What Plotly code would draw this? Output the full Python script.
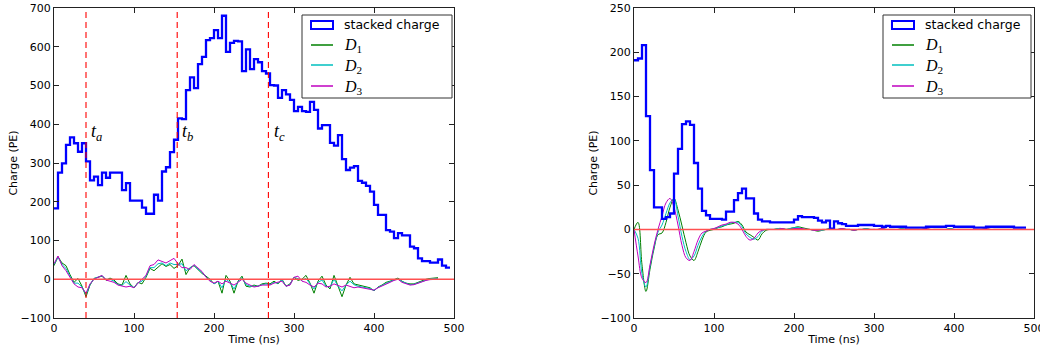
import plotly.graph_objects as go

# ---------------- data ----------------
bin_width = 5  # ns

left_charge = [
    183, 275, 299, 347, 366, 351, 329, 351, 304, 255,
    265, 243, 275, 262, 275, 275, 275, 230, 248, 203,
    203, 203, 185, 169, 169, 218, 203, 278, 289, 328,
    360, 415, 413,
    488, 521, 493, 555, 574, 617, 622, 643, 622, 680,
    587, 610, 615, 614, 537, 593, 542, 568, 560, 537,
    531, 501, 500, 468, 488, 477, 463, 434, 445, 434,
    432, 458, 437, 389, 398, 398, 352, 345, 372, 310,
    282, 288, 292, 254, 249, 241, 226, 192, 166, 166,
    127, 123, 106, 119, 113, 113, 84, 80, 54, 47,
    47, 43, 43, 51, 35, 30,
]

left_d_time = list(range(0, 485, 5))
left_d1 = [
    35, 58, 42, 35, 12, -8, 2, -18, -45, -15,
    2, 6, 8, -3, 3, -2, -12, -15, 10, -12,
    -22, -8, -12, 5, 28, 22, 30, 40, 33, 38,
    28, 35, 52, 12, 30, 35, 25, 15, 8, 0,
    -12, -5, -36, 10, -5, -36, -5, 8, -18, -20,
    -15, -18, -12, -10, -12, -5, -12, 0, -18, -12,
    5, -3, 0, 10, -10, -36, -5, 8, -15, -25,
    10, -20, -45, -15, 5, -12, -15, -18, -20, -22,
    -30, -20, -15, -8, -5, 0, 3, -5, -10, -12,
    -12, -8, -3, 0, 2, 3, 4,
]
left_d2 = [
    38, 57, 38, 28, 8, -10, -10, -20, -40, -14,
    2, 6, 9, 0, 0, -5, -14, -16, -6, -15,
    -22, -9, -5, 8, 30, 30, 40, 42, 35, 42,
    38, 38, 40, 22, 28, 36, 26, 18, 6, -2,
    -12, -5, -22, 0, -8, -25, -6, 4, -14, -18,
    -18, -18, -14, -12, -14, -8, -10, -2, -18, -14,
    5, 2, -2, 2, -12, -25, -8, -2, -18, -20,
    0, -18, -30, -15, -5, -14, -18, -20, -22, -24,
    -29, -21, -16, -10, -6, -2, 1, -6, -11, -14,
    -13, -9, -5, -2, 1, 2, 2,
]
left_d3 = [
    40, 60, 35, 22, 5, -12, -20, -22, -36, -12,
    0, 5, 10, -2, -5, -8, -15, -18, -20, -18,
    -22, -10, 0, 10, 35, 38, 50, 45, 42, 48,
    54, 40, 30, 30, 25, 38, 28, 20, 5, -5,
    -10, -5, -12, -5, -10, -15, -8, 0, -10, -15,
    -20, -18, -15, -15, -15, -10, -8, -5, -18, -15,
    5, 8, -5, -8, -15, -20, -10, -12, -20, -18,
    -12, -15, -20, -15, -18, -22, -20, -22, -24, -26,
    -28, -22, -18, -12, -8, -3, 0, -8, -12, -15,
    -14, -10, -6, -3, -1, 0, 0,
]

right_charge = [
    191, 193, 208, 128, 67, 25, 25, 12, 14, 18,
    63, 91, 119, 122, 118, 75, 46, 21, 16, 12,
    12, 12, 11, 20, 20, 33, 41, 46, 35, 35,
    18, 11, 9, 9, 8, 8, 8, 8, 8, 8,
    11, 15, 14, 14, 14, 13, 10, 8, 10, 1,
    9, 7, 6, 4, 4, 4, 5, 5, 5, 5,
    4, 4, 3, 4, 3, 3, 3, 3, 2, 2,
    2, 2, 2, 3, 3, 3, 3, 3, 4, 4,
    3, 3, 3, 3, 3, 2, 2, 2, 3, 3,
    3, 3, 3, 3, 3, 2, 2, 2,
]

right_d_time = list(range(0, 490, 5))
right_d1 = [
    0, 8, -40, -70, -45, -22, -6, -4, 8, 25,
    35, 22, 4, -15, -30, -35, -25, -12, -3, -1,
    0, 2, 3, 5, 6, 7, 9, 5, -3, -6,
    -9, -12, -5, -1, 0, 0, 1, 1, 0, 1,
    2, 3, 2, 1, 0, -1, -2, -1, 0, 1,
    0, 0, 1, 0, 0, -1, 0, 0, 1, 0,
    0, 0, 1, 0, 0, 0, 0, 1, 0, 0,
    0, 0, 0, 1, 0, 0, 0, 0, 0, 1,
    0, 0, 0, 0, 0, 0, 0, 0, 1, 0,
    0, 0, 0, 0, 0, 0, 0, 0,
]
right_d2 = [
    0, -10, -50, -65, -42, -20, -3, 5, 18, 30,
    35, 15, -8, -25, -34, -30, -18, -8, -2, 0,
    1, 2, 4, 5, 7, 8, 8, 3, -5, -9,
    -11, -8, -2, 0, 0, 0, 1, 1, 0, 1,
    2, 2, 1, 0, 0, -1, -1, -1, 0, 0,
    0, 0, 1, 0, 0, -1, 0, 0, 1, 0,
    0, 0, 1, 0, 0, 0, 0, 1, 0, 0,
    0, 0, 0, 1, 0, 0, 0, 0, 0, 1,
    0, 0, 0, 0, 0, 0, 0, 0, 1, 0,
    0, 0, 0, 0, 0, 0, 0, 0,
]
right_d3 = [
    0, -30, -55, -60, -40, -18, 0, 15, 30, 35,
    25, 5, -18, -32, -35, -25, -12, -4, -2, 0,
    1, 3, 5, 6, 8, 8, 6, 0, -8, -12,
    -10, -4, -1, 0, 0, 0, 0, 1, 0, 0,
    1, 1, 1, 0, 0, -1, -1, 0, 0, 0,
    0, 0, 1, 0, 0, -1, 0, 0, 0, 0,
    0, 0, 1, 0, 0, 0, 0, 0, 0, 0,
    0, 0, 0, 1, 0, 0, 0, 0, 0, 0,
    0, 0, 0, 0, 0, 0, 0, 0, 1, 0,
    0, 0, 0, 0, 0, 0, 0, 0,
]

marker_times = [40, 154, 268]
marker_names = ["a", "b", "c"]
label_level = 380

series_names = ["stacked charge", "D1", "D2", "D3"]
series_labels = ["stacked charge",
                 "<i>D</i><sub>1</sub>", "<i>D</i><sub>2</sub>", "<i>D</i><sub>3</sub>"]

# ---------------- styles ----------------
BLUE = "#0000ff"
D_COLORS = ["#008000", "#00bfbf", "#bf00bf"]
RED = "#ff0000"
ZERO_RED = "#ff5050"
AXIS_COL = "#222222"
FONT = "DejaVu Sans"
SERIF = "Liberation Serif"

W, H = 1040, 349
ML, MR, MT, MB = 54, 6, 8, 31
PW = W - ML - MR
PH = H - MT - MB


def px2paper_x(px):
    return (px - ML) / PW


def px2paper_y(py):
    return (H - MB - py) / PH


def step_xy(values):
    xs = [i * bin_width for i in range(len(values))] + [len(values) * bin_width]
    ys = list(values) + [values[-1]]
    return xs, ys


fig = go.Figure()

panels = [
    ("x", "y", left_charge, left_d_time, [left_d1, left_d2, left_d3]),
    ("x2", "y2", right_charge, right_d_time, [right_d1, right_d2, right_d3]),
]

for xa, ya, charge, dt, dlist in panels:
    for i, dv in enumerate(dlist):
        fig.add_trace(go.Scatter(
            x=dt, y=dv, mode="lines", xaxis=xa, yaxis=ya,
            line=dict(color=D_COLORS[i], width=1,
                      shape="spline" if xa == "x2" else "linear"),
            name=series_names[i + 1], showlegend=False))
    sx, sy = step_xy(charge)
    fig.add_trace(go.Scatter(
        x=sx, y=sy, mode="lines", xaxis=xa, yaxis=ya,
        line=dict(color=BLUE, width=2.3, shape="hv"),
        name=series_names[0], showlegend=False))

shapes = []
annotations = []

# zero lines
for xa, ya in [("x", "y"), ("x2", "y2")]:
    shapes.append(dict(type="line", xref=xa + " domain", yref=ya,
                       x0=0, x1=1, y0=0, y1=0,
                       line=dict(color=ZERO_RED, width=1.4), layer="above"))

# vertical dashed lines and labels (left panel)
for t, nm in zip(marker_times, marker_names):
    shapes.append(dict(type="line", xref="x", yref="y domain",
                       x0=t, x1=t, y0=0, y1=1,
                       line=dict(color=RED, width=1.1, dash="6px,4px"),
                       layer="above"))
    annotations.append(dict(x=t + 4, y=label_level, xref="x", yref="y",
                            text="<i>t<sub>%s</sub></i>" % nm,
                            showarrow=False, xanchor="left", yanchor="middle",
                            font=dict(family=SERIF, size=18, color="black")))

# manual legends
for box_left, box_right in [(302, 452), (883, 1031)]:
    box_top, box_bot = 15, 98
    shapes.append(dict(type="rect", xref="paper", yref="paper",
                       x0=px2paper_x(box_left), x1=px2paper_x(box_right),
                       y0=px2paper_y(box_bot), y1=px2paper_y(box_top),
                       line=dict(color="#333333", width=1),
                       fillcolor="white", layer="above"))
    sym_l = box_left + 9
    sym_r = box_left + 31
    txt_x = box_left + 40
    rows = [25, 45, 65, 86]
    shapes.append(dict(type="rect", xref="paper", yref="paper",
                       x0=px2paper_x(sym_l), x1=px2paper_x(sym_r),
                       y0=px2paper_y(rows[0] + 4), y1=px2paper_y(rows[0] - 4),
                       line=dict(color=BLUE, width=2), fillcolor="rgba(0,0,0,0)",
                       layer="above"))
    for i in range(3):
        shapes.append(dict(type="line", xref="paper", yref="paper",
                           x0=px2paper_x(sym_l), x1=px2paper_x(sym_r),
                           y0=px2paper_y(rows[i + 1]), y1=px2paper_y(rows[i + 1]),
                           line=dict(color=D_COLORS[i], width=1.5), layer="above"))
    for i, lab in enumerate(series_labels):
        annotations.append(dict(
            x=px2paper_x(txt_x), y=px2paper_y(rows[i] + (0 if i == 0 else 1)),
            xref="paper", yref="paper", text=lab, showarrow=False,
            xanchor="left", yanchor="middle",
            font=dict(family=FONT if i == 0 else SERIF,
                      size=12.5 if i == 0 else 16, color="black")))

axis_common = dict(showline=True, linecolor=AXIS_COL, linewidth=1, mirror="allticks",
                   ticks="inside", ticklen=5, tickwidth=1, tickcolor=AXIS_COL,
                   showgrid=False, zeroline=False, automargin=False,
                   ticklabeloverflow="allow",
                   tickfont=dict(family=FONT, size=11, color="black"))

xtitle = dict(text="Time (ns)", standoff=1, font=dict(family=FONT, size=11, color="black"))
ytitle = dict(text="Charge (PE)", standoff=0, font=dict(family=FONT, size=11, color="black"))

fig.update_layout(
    width=W, height=H,
    margin=dict(l=ML, r=MR, t=MT, b=MB, autoexpand=False),
    paper_bgcolor="white", plot_bgcolor="white",
    showlegend=False,
    shapes=shapes, annotations=annotations,
    xaxis=dict(domain=[0, 400 / PW], range=[0, 500], tickvals=[0, 100, 200, 300, 400, 500],
               anchor="y", title=xtitle, **axis_common),
    yaxis=dict(domain=[0, 1], range=[-100, 700], dtick=100, anchor="x",
               title=ytitle, **axis_common),
    xaxis2=dict(domain=[580 / PW, 1], range=[0, 500], tickvals=[0, 100, 200, 300, 400, 500],
                anchor="y2", title=xtitle, **axis_common),
    yaxis2=dict(domain=[0, 1], range=[-100, 250], dtick=50, anchor="x2",
                title=ytitle, **axis_common),
)

fig.write_html("out.html",
               config={"displayModeBar": False},
               post_script="document.body.style.margin='0px';document.body.style.padding='0px';")
